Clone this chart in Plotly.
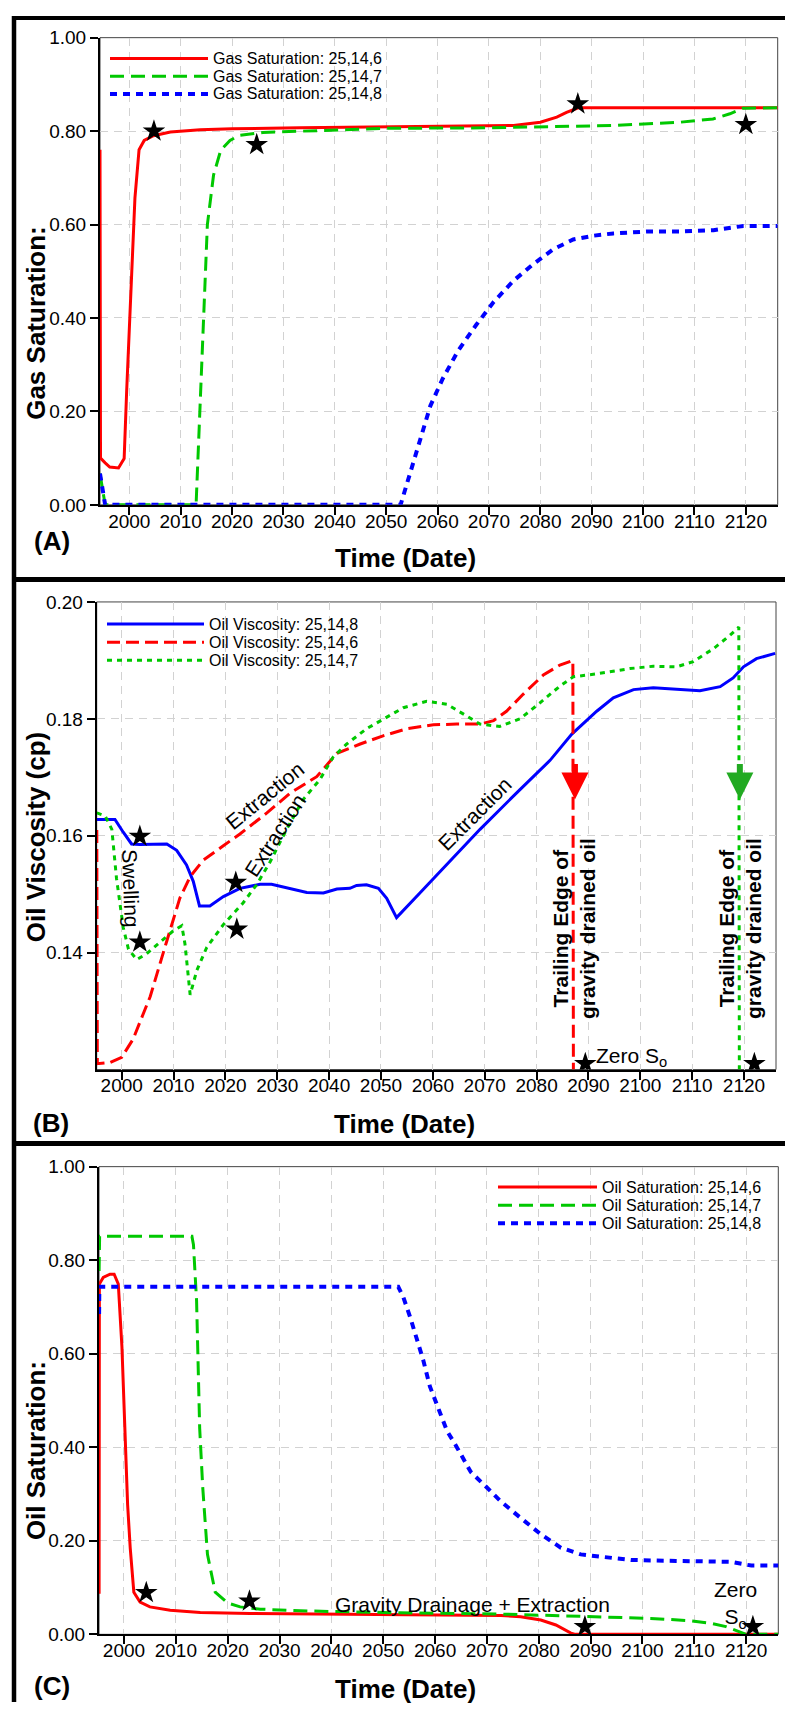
import plotly.graph_objects as go

W, H = 785, 1713
FONT = "Liberation Sans, Arial, Helvetica, sans-serif"

RED = "#ff0000"
GREEN = "#00c800"
BLUE = "#0000ff"

# ---------------- (A) Gas saturation ----------------
gas6_t = [1994.3, 1994.4, 1995.3, 1996.2, 1997.9, 1999.0, 1999.5, 2000.3, 2001.1, 2001.9,
          2002.9, 2004.7, 2008.0, 2013.8, 2020.0, 2033.2, 2052.7, 2068.3, 2074.8, 2080.0,
          2083.2, 2085.1, 2087.4, 2126.2]
gas6_v = [0.76, 0.10, 0.09, 0.081, 0.079, 0.099, 0.247, 0.459, 0.657, 0.76,
          0.78, 0.79, 0.798, 0.803, 0.805, 0.807, 0.809, 0.811, 0.812, 0.819,
          0.830, 0.840, 0.850, 0.850]

gas7_t = [1994.3, 1995.3, 2013.0, 2013.8, 2014.5, 2015.2, 2016.4, 2017.8, 2019.6, 2021.5,
          2026.0, 2033.2, 2050.0, 2070.0, 2094.2, 2107.2, 2113.6, 2116.9, 2119.5, 2126.2]
gas7_v = [0.067, 0.0, 0.0, 0.21, 0.42, 0.60, 0.706, 0.759, 0.78, 0.791,
          0.797, 0.80, 0.806, 0.807, 0.812, 0.819, 0.826, 0.837, 0.849, 0.85]

gas8_t = [1994.3, 1995.3, 2052.8, 2058.6, 2061.0, 2064.0, 2067.5, 2070.9, 2074.8, 2078.6,
          2082.5, 2086.4, 2090.3, 2094.2, 2100.7, 2107.2, 2113.7, 2119.5, 2126.2]
gas8_v = [0.067, 0.0, 0.0, 0.212, 0.27, 0.33, 0.385, 0.434, 0.480, 0.515,
          0.547, 0.568, 0.576, 0.581, 0.585, 0.585, 0.588, 0.597, 0.597]

gas_star_t = [2004.8, 2024.8, 2087.3, 2120.0]
gas_star_v = [0.80, 0.771, 0.858, 0.814]

# ---------------- (B) Oil viscosity ----------------
visc8_t = [1995.2, 1998.7, 2000.3, 2001.9, 2003.5, 2008.7, 2010.6, 2012.5, 2013.8, 2015.0,
           2017.0, 2019.6, 2022.8, 2026.7, 2028.9, 2032.5, 2035.7, 2038.9, 2041.5, 2044.0,
           2045.3, 2047.2, 2049.5, 2051.1, 2053.0, 2057.5, 2062.3, 2069.1, 2076.8, 2082.6,
           2086.8, 2091.6, 2094.8, 2098.7, 2102.5, 2107.7, 2111.5, 2115.4, 2117.9, 2119.9,
           2122.4, 2126.0]
visc8_v = [0.1628, 0.1628, 0.1606, 0.1586, 0.1585, 0.1586, 0.1575, 0.1550, 0.1522, 0.1480,
           0.1480, 0.1496, 0.1510, 0.1517, 0.1517, 0.1510, 0.1503, 0.1502, 0.1509, 0.1510,
           0.1515, 0.1516, 0.1510, 0.1493, 0.1460, 0.1502, 0.1547, 0.1611, 0.1679, 0.1729,
           0.1774, 0.1813, 0.1836, 0.1850, 0.1853, 0.1850, 0.1848, 0.1855, 0.1870, 0.1889,
           0.1903, 0.1912]

visc6_t = [1995.2, 1995.3, 1997.7, 2000.0, 2002.2, 2005.5, 2008.7, 2011.2, 2013.2, 2015.7,
           2019.6, 2022.8, 2028.0, 2032.5, 2037.6, 2041.5, 2046.0, 2050.4, 2055.0, 2060.1,
           2064.6, 2069.1, 2071.7, 2074.2, 2077.4, 2081.3, 2084.5, 2087.0, 2087.1]
visc6_v = [0.1610, 0.1210, 0.1212, 0.1221, 0.1252, 0.1325, 0.1420, 0.1493, 0.1530, 0.1558,
           0.1583, 0.1603, 0.1639, 0.1673, 0.1701, 0.1741, 0.1757, 0.1771, 0.1783, 0.1790,
           0.1791, 0.1791, 0.1797, 0.1813, 0.1842, 0.1875, 0.1892, 0.1900, 0.1200]

visc7_t = [1995.2, 1996.8, 1998.1, 1999.0, 2000.3, 2001.3, 2002.9, 2004.8, 2007.4, 2009.9,
           2011.6, 2012.2, 2013.2, 2014.5, 2016.4, 2019.6, 2023.4, 2026.0, 2028.6, 2031.8,
           2035.0, 2038.2, 2040.8, 2043.4, 2047.2, 2051.1, 2054.3, 2058.8, 2062.7, 2066.5,
           2069.1, 2072.9, 2076.8, 2080.6, 2084.5, 2087.1, 2091.6, 2098.0, 2102.5, 2107.0,
           2110.2, 2114.1, 2117.3, 2119.0, 2119.1]
visc7_v = [0.1639, 0.1634, 0.1611, 0.1527, 0.1443, 0.1406, 0.1388, 0.1398, 0.1418, 0.1437,
           0.1446, 0.1415, 0.1328, 0.1370, 0.1409, 0.1448, 0.1485, 0.1516, 0.1555, 0.1611,
           0.1662, 0.1696, 0.1735, 0.1757, 0.1783, 0.1802, 0.1819, 0.1830, 0.1825, 0.1805,
           0.1791, 0.1787, 0.1800, 0.1827, 0.1856, 0.1872, 0.1877, 0.1886, 0.1890, 0.1889,
           0.1898, 0.1920, 0.1943, 0.1957, 0.1200]

visc_star_t = [2003.5, 2003.5, 2022.0, 2022.2, 2089.4, 2122.0]
visc_star_v = [0.1599, 0.1418, 0.1520, 0.1440, 0.1210, 0.1210]

# ---------------- (C) Oil saturation ----------------
oil6_t = [1995.2, 1995.25, 1996.0, 1997.3, 1998.1, 1998.9, 1999.6, 2000.2, 2000.7, 2001.2,
          2001.9, 2003.1, 2005.0, 2008.9, 2014.7, 2024.3, 2043.7, 2063.0, 2072.7, 2076.5,
          2080.4, 2083.3, 2086.2, 2087.1, 2126.2]
oil6_v = [0.087, 0.749, 0.763, 0.770, 0.770, 0.749, 0.615, 0.432, 0.277, 0.185,
          0.090, 0.069, 0.0587, 0.0517, 0.0469, 0.0448, 0.0427, 0.0412, 0.0405, 0.0376,
          0.0306, 0.020, 0.0025, 0.0, 0.0]

oil7_t = [1995.2, 1995.3, 2013.1, 2013.4, 2014.0, 2014.6, 2015.2, 2016.1, 2017.6, 2020.0,
          2022.4, 2026.3, 2034.0, 2053.3, 2072.7, 2092.0, 2101.6, 2109.4, 2113.2, 2116.1,
          2118.6, 2120.0, 2126.2]
oil7_v = [0.777, 0.851, 0.851, 0.833, 0.713, 0.44, 0.312, 0.171, 0.090, 0.067,
          0.0587, 0.0539, 0.0503, 0.046, 0.0433, 0.0376, 0.0341, 0.029, 0.0236, 0.0165,
          0.006, 0.0, 0.0]

oil8_t = [1995.2, 1995.25, 2052.9, 2053.9, 2055.2, 2056.5, 2057.7, 2059.0, 2060.6, 2062.3,
          2064.0, 2066.9, 2069.8, 2072.7, 2076.5, 2080.4, 2084.3, 2088.1, 2092.0, 2097.8,
          2106.5, 2114.2, 2117.1, 2121.0, 2126.2]
oil8_v = [0.685, 0.743, 0.743, 0.720, 0.678, 0.629, 0.587, 0.530, 0.481, 0.435,
          0.404, 0.347, 0.316, 0.284, 0.249, 0.214, 0.185, 0.171, 0.166, 0.159,
          0.157, 0.157, 0.155, 0.147, 0.147]

oil_star_t = [2004.3, 2024.2, 2088.9, 2121.3]
oil_star_v = [0.089, 0.071, 0.0165, 0.0165]

year_ticks = list(range(2000, 2121, 10))
sat_ticks = [0.0, 0.2, 0.4, 0.6, 0.8, 1.0]
visc_ticks = [0.14, 0.16, 0.18, 0.20]

# line styles
SOLID = dict(width=3)
DASH = dict(width=3, dash="14px,7px")
DOT = dict(width=4, dash="7px,6px")
DOT_B = dict(width=3, dash="5px,5px")


def fx(p):
    return p / W


def fy(p):
    return 1 - p / H


# panel frames in page pixels: (left, right, top, bottom)
panels = [
    dict(ax="", box=(100, 777.7, 28, 501), xr=[1994.3, 2126.2], yr=[0, 1], yt=sat_ticks),
    dict(ax="2", box=(96.7, 776, 599.3, 1072.7), xr=[1995.18, 2126.17], yr=[0.12, 0.20], yt=visc_ticks),
    dict(ax="3", box=(99, 778.3, 1171, 1644.5), xr=[1995.18, 2126.2], yr=[0, 1], yt=sat_ticks),
]

fig = go.Figure()

series = [
    # (panel index, name, t, v, color, style)
    (0, "Gas Saturation: 25,14,6", gas6_t, gas6_v, RED, SOLID),
    (0, "Gas Saturation: 25,14,7", gas7_t, gas7_v, GREEN, DASH),
    (0, "Gas Saturation: 25,14,8", gas8_t, gas8_v, BLUE, DOT),
    (1, "Oil Viscosity: 25,14,8", visc8_t, visc8_v, BLUE, SOLID),
    (1, "Oil Viscosity: 25,14,6", visc6_t, visc6_v, RED, dict(width=3, dash="13px,6px")),
    (1, "Oil Viscosity: 25,14,7", visc7_t, visc7_v, GREEN, DOT_B),
    (2, "Oil Saturation: 25,14,6", oil6_t, oil6_v, RED, SOLID),
    (2, "Oil Saturation: 25,14,7", oil7_t, oil7_v, GREEN, DASH),
    (2, "Oil Saturation: 25,14,8", oil8_t, oil8_v, BLUE, DOT),
]

stars = [(0, gas_star_t, gas_star_v), (1, visc_star_t, visc_star_v), (2, oil_star_t, oil_star_v)]

for pi, name, t, v, color, style in series:
    ax = panels[pi]["ax"]
    fig.add_trace(go.Scatter(
        x=t, y=v, mode="lines", name=name, showlegend=False,
        line=dict(color=color, **style),
        xaxis="x" + ax, yaxis="y" + ax,
    ))

for pi, t, v in stars:
    ax = panels[pi]["ax"]
    fig.add_trace(go.Scatter(
        x=t, y=v, mode="markers", showlegend=False,
        marker=dict(symbol="star", size=17, color="black", line=dict(width=0)),
        xaxis="x" + ax, yaxis="y" + ax,
    ))

layout = dict(
    width=W, height=H,
    margin=dict(l=0, r=0, t=0, b=0),
    paper_bgcolor="white", plot_bgcolor="white",
    font=dict(family=FONT, color="black"),
    showlegend=False,
)

shapes = []
annotations = []

for p in panels:
    l, r, t, b = p["box"]
    ax = p["ax"]
    layout["xaxis" + ax] = dict(
        domain=[fx(l), fx(r)], range=p["xr"], anchor="y" + ax,
        tickvals=year_ticks, ticks="outside", ticklen=8, tickwidth=1.5, tickcolor="black",
        ticklabelstandoff=-10,
        tickfont=dict(size=19, family=FONT, color="black"),
        showline=True, linecolor="black", linewidth=2,
        showgrid=True, gridcolor="#d2d2d2", gridwidth=1.3, griddash="8px,6px",
        zeroline=False, fixedrange=True,
    )
    layout["yaxis" + ax] = dict(
        domain=[fy(b), fy(t)], range=p["yr"], anchor="x" + ax,
        tickvals=p["yt"], tickformat=".2f", ticks="outside", ticklen=8, tickwidth=1.5,
        tickcolor="black", tickfont=dict(size=19, family=FONT, color="black"),
        showline=True, linecolor="black", linewidth=2,
        showgrid=True, gridcolor="#d2d2d2", gridwidth=1.3, griddash="8px,6px",
        zeroline=False, fixedrange=True,
    )
    # thin frame on the top and right sides of the plot area
    shapes.append(dict(type="rect", xref="x" + ax + " domain", yref="y" + ax + " domain",
                       x0=0, x1=1, y0=0, y1=1, line=dict(color="#444444", width=1),
                       layer="below"))

# thick panel borders
BORDER = "black"
shapes += [
    dict(type="line", xref="paper", yref="paper", x0=fx(12), x1=1, y0=fy(8), y1=fy(8),
         line=dict(color=BORDER, width=4)),
    dict(type="line", xref="paper", yref="paper", x0=fx(14), x1=fx(14), y0=fy(6), y1=0,
         line=dict(color=BORDER, width=4.5)),
    dict(type="line", xref="paper", yref="paper", x0=fx(12), x1=1, y0=fy(576.5), y1=fy(576.5),
         line=dict(color=BORDER, width=5)),
    dict(type="line", xref="paper", yref="paper", x0=fx(12), x1=1, y0=fy(1147.5), y1=fy(1147.5),
         line=dict(color=BORDER, width=5)),
]

# legends drawn as key lines plus labels
legend_boxes = [
    (0, 110, 208, [49, 67, 85]),
    (1, 107, 204, [621.7, 640, 658.3]),
    (2, 498, 597, [1191.7, 1210, 1228.3]),
]
for pi, x0, x1, rows in legend_boxes:
    entries = [s for s in series if s[0] == pi]
    for (_, name, _, _, color, style), yrow in zip(entries, rows):
        shapes.append(dict(type="line", xref="paper", yref="paper",
                           x0=fx(x0), x1=fx(x1), y0=fy(yrow), y1=fy(yrow),
                           line=dict(color=color, **style)))
        annotations.append(dict(xref="paper", yref="paper", x=fx(x1 + 3), y=fy(yrow),
                                xanchor="left", yanchor="middle", showarrow=False,
                                text=name, font=dict(size=16, family=FONT, color="black")))

# axis titles and panel letters
y_titles = [("Gas Saturation:", 36, 316.7), ("Oil Viscosity (cp)", 36, 837.5),
            ("Oil Saturation:", 36, 1459)]
for text, x, y in y_titles:
    annotations.append(dict(xref="paper", yref="paper", x=fx(x), y=fy(y), text="<b>%s</b>" % text,
                            textangle=-90, showarrow=False, xanchor="center", yanchor="middle",
                            font=dict(size=26, family=FONT, color="black")))
x_titles = [(405, 555), (404, 1128), (405, 1700)]
for x, y in x_titles:
    annotations.append(dict(xref="paper", yref="paper", x=fx(x), y=fy(y), text="<b>Time (Date)</b>",
                            showarrow=False, xanchor="center", yanchor="middle",
                            font=dict(size=26, family=FONT, color="black")))
letters = [("(A)", 52, 538), ("(B)", 51, 1127), ("(C)", 52, 1697)]
for text, x, y in letters:
    annotations.append(dict(xref="paper", yref="paper", x=fx(x), y=fy(y), text="<b>%s</b>" % text,
                            showarrow=False, xanchor="center", yanchor="middle",
                            font=dict(size=26, family=FONT, color="black")))

# in-plot notes, panel B; the trailing-edge marks sit on the drop of each curve
drop6 = visc6_t[-1]
drop7 = visc7_t[-1]
note = dict(size=21, family=FONT, color="black")
trail = "<b>Trailing Edge of<br>gravity drained oil</b>"
annotations += [
    dict(xref="x2", yref="y2", x=2001.8, y=0.1510, text="Swelling", textangle=88,
         showarrow=False, font=note),
    dict(xref="x2", yref="y2", x=2027.6, y=0.1669, text="Extraction", textangle=-39,
         showarrow=False, font=note),
    dict(xref="x2", yref="y2", x=2029.6, y=0.1600, text="Extraction", textangle=-57,
         showarrow=False, font=note),
    dict(xref="x2", yref="y2", x=2068.1, y=0.1638, text="Extraction", textangle=-45,
         showarrow=False, font=note),
    dict(xref="x2", yref="y2", x=drop6, y=0.1441, text=trail, textangle=-90,
         showarrow=False, font=note),
    dict(xref="x2", yref="y2", x=drop7, y=0.1441, text=trail, textangle=-90,
         showarrow=False, font=note),
    dict(xref="x2", yref="y2", x=2091.0, y=0.1222, text="Zero S<sub>o</sub>",
         xanchor="left", yanchor="middle", showarrow=False, font=note),
    dict(xref="x2", yref="y2", x=drop6 + 0.3, y=0.1662, ax=0, ay=-37, text="",
         showarrow=True, arrowhead=2, arrowsize=0.9, arrowwidth=6, arrowcolor="#ff0000"),
    dict(xref="x2", yref="y2", x=drop7 + 0.1, y=0.1662, ax=0, ay=-37, text="",
         showarrow=True, arrowhead=2, arrowsize=0.9, arrowwidth=6, arrowcolor="#22aa22"),
]

# in-plot notes, panel C
annotations += [
    dict(xref="x3", yref="y3", x=2067.3, y=0.064, text="Gravity Drainage + Extraction",
         showarrow=False, font=note),
    dict(xref="x3", yref="y3", x=2117.9, y=0.062, text="Zero<br>S<sub>o</sub>",
         showarrow=False, font=note),
]

layout["shapes"] = shapes
layout["annotations"] = annotations
fig.update_layout(**layout)

fig.write_html("out.html")
